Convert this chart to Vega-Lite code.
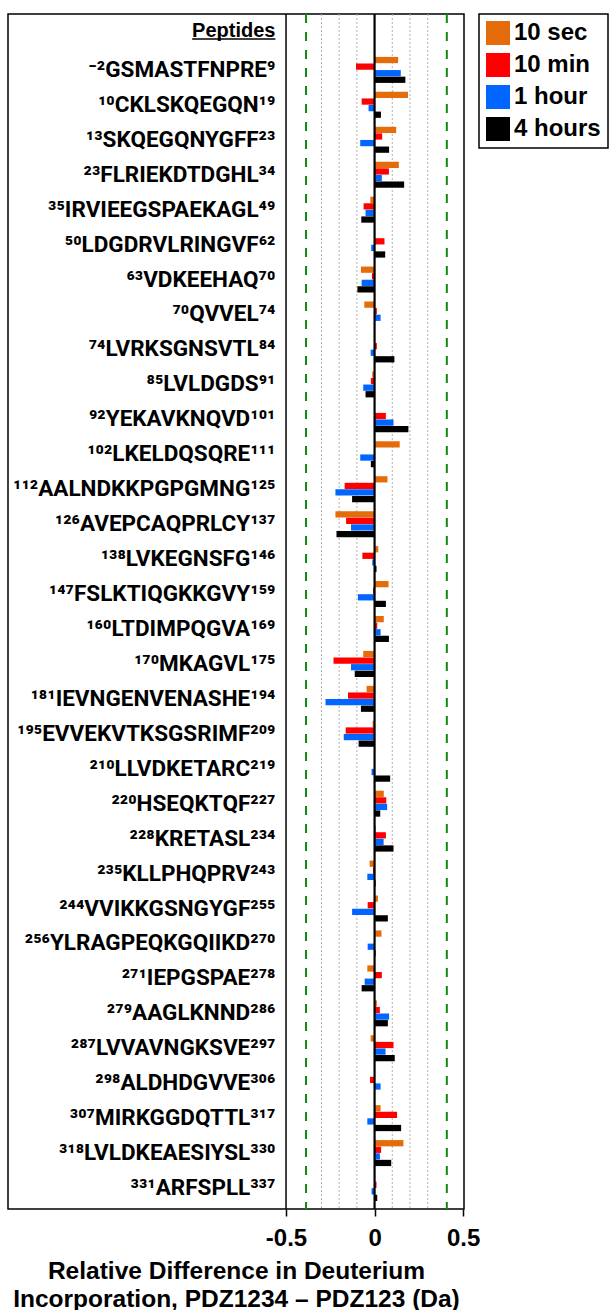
{
  "$schema": "https://vega.github.io/schema/vega-lite/v6.json",
  "autosize": {"type": "none"},
  "width": 456,
  "height": 1195,
  "padding": {"left": 8, "top": 14, "right": 149, "bottom": 101},
  "background": "white",
  "config": {
    "view": {"stroke": "#000000", "strokeWidth": 1.5},
    "font": "Liberation Sans"
  },
  "datasets": {
    "labels": [
      {"peptide": "⁻²GSMASTFNPRE⁹"},
      {"peptide": "¹⁰CKLSKQEGQN¹⁹"},
      {"peptide": "¹³SKQEGQNYGFF²³"},
      {"peptide": "²³FLRIEKDTDGHL³⁴"},
      {"peptide": "³⁵IRVIEEGSPAEKAGL⁴⁹"},
      {"peptide": "⁵⁰LDGDRVLRINGVF⁶²"},
      {"peptide": "⁶³VDKEEHAQ⁷⁰"},
      {"peptide": "⁷⁰QVVEL⁷⁴"},
      {"peptide": "⁷⁴LVRKSGNSVTL⁸⁴"},
      {"peptide": "⁸⁵LVLDGDS⁹¹"},
      {"peptide": "⁹²YEKAVKNQVD¹⁰¹"},
      {"peptide": "¹⁰²LKELDQSQRE¹¹¹"},
      {"peptide": "¹¹²AALNDKKPGPGMNG¹²⁵"},
      {"peptide": "¹²⁶AVEPCAQPRLCY¹³⁷"},
      {"peptide": "¹³⁸LVKEGNSFG¹⁴⁶"},
      {"peptide": "¹⁴⁷FSLKTIQGKKGVY¹⁵⁹"},
      {"peptide": "¹⁶⁰LTDIMPQGVA¹⁶⁹"},
      {"peptide": "¹⁷⁰MKAGVL¹⁷⁵"},
      {"peptide": "¹⁸¹IEVNGENVENASHE¹⁹⁴"},
      {"peptide": "¹⁹⁵EVVEKVTKSGSRIMF²⁰⁹"},
      {"peptide": "²¹⁰LLVDKETARC²¹⁹"},
      {"peptide": "²²⁰HSEQKTQF²²⁷"},
      {"peptide": "²²⁸KRETASL²³⁴"},
      {"peptide": "²³⁵KLLPHQPRV²⁴³"},
      {"peptide": "²⁴⁴VVIKKGSNGYGF²⁵⁵"},
      {"peptide": "²⁵⁶YLRAGPEQKGQIIKD²⁷⁰"},
      {"peptide": "²⁷¹IEPGSPAE²⁷⁸"},
      {"peptide": "²⁷⁹AAGLKNND²⁸⁶"},
      {"peptide": "²⁸⁷LVVAVNGKSVE²⁹⁷"},
      {"peptide": "²⁹⁸ALDHDGVVE³⁰⁶"},
      {"peptide": "³⁰⁷MIRKGGDQTTL³¹⁷"},
      {"peptide": "³¹⁸LVLDKEAESIYSL³³⁰"},
      {"peptide": "³³¹ARFSPLL³³⁷"}
    ],
    "bars": [
      {"peptide": "⁻²GSMASTFNPRE⁹", "time": "10 sec", "value": 0.133},
      {"peptide": "⁻²GSMASTFNPRE⁹", "time": "10 min", "value": -0.105},
      {"peptide": "⁻²GSMASTFNPRE⁹", "time": "1 hour", "value": 0.148},
      {"peptide": "⁻²GSMASTFNPRE⁹", "time": "4 hours", "value": 0.174},
      {"peptide": "¹⁰CKLSKQEGQN¹⁹", "time": "10 sec", "value": 0.189},
      {"peptide": "¹⁰CKLSKQEGQN¹⁹", "time": "10 min", "value": -0.073},
      {"peptide": "¹⁰CKLSKQEGQN¹⁹", "time": "1 hour", "value": -0.034},
      {"peptide": "¹⁰CKLSKQEGQN¹⁹", "time": "4 hours", "value": 0.036},
      {"peptide": "¹³SKQEGQNYGFF²³", "time": "10 sec", "value": 0.122},
      {"peptide": "¹³SKQEGQNYGFF²³", "time": "10 min", "value": 0.043},
      {"peptide": "¹³SKQEGQNYGFF²³", "time": "1 hour", "value": -0.081},
      {"peptide": "¹³SKQEGQNYGFF²³", "time": "4 hours", "value": 0.082},
      {"peptide": "²³FLRIEKDTDGHL³⁴", "time": "10 sec", "value": 0.137},
      {"peptide": "²³FLRIEKDTDGHL³⁴", "time": "10 min", "value": 0.081},
      {"peptide": "²³FLRIEKDTDGHL³⁴", "time": "1 hour", "value": 0.041},
      {"peptide": "²³FLRIEKDTDGHL³⁴", "time": "4 hours", "value": 0.167},
      {"peptide": "³⁵IRVIEEGSPAEKAGL⁴⁹", "time": "10 sec", "value": -0.024},
      {"peptide": "³⁵IRVIEEGSPAEKAGL⁴⁹", "time": "10 min", "value": -0.062},
      {"peptide": "³⁵IRVIEEGSPAEKAGL⁴⁹", "time": "1 hour", "value": -0.051},
      {"peptide": "³⁵IRVIEEGSPAEKAGL⁴⁹", "time": "4 hours", "value": -0.075},
      {"peptide": "⁵⁰LDGDRVLRINGVF⁶²", "time": "10 sec", "value": 0.0},
      {"peptide": "⁵⁰LDGDRVLRINGVF⁶²", "time": "10 min", "value": 0.056},
      {"peptide": "⁵⁰LDGDRVLRINGVF⁶²", "time": "1 hour", "value": -0.019},
      {"peptide": "⁵⁰LDGDRVLRINGVF⁶²", "time": "4 hours", "value": 0.06},
      {"peptide": "⁶³VDKEEHAQ⁷⁰", "time": "10 sec", "value": -0.077},
      {"peptide": "⁶³VDKEEHAQ⁷⁰", "time": "10 min", "value": -0.015},
      {"peptide": "⁶³VDKEEHAQ⁷⁰", "time": "1 hour", "value": -0.073},
      {"peptide": "⁶³VDKEEHAQ⁷⁰", "time": "4 hours", "value": -0.097},
      {"peptide": "⁷⁰QVVEL⁷⁴", "time": "10 sec", "value": -0.058},
      {"peptide": "⁷⁰QVVEL⁷⁴", "time": "10 min", "value": 0.013},
      {"peptide": "⁷⁰QVVEL⁷⁴", "time": "1 hour", "value": 0.034},
      {"peptide": "⁷⁰QVVEL⁷⁴", "time": "4 hours", "value": 0.0},
      {"peptide": "⁷⁴LVRKSGNSVTL⁸⁴", "time": "10 sec", "value": 0.0},
      {"peptide": "⁷⁴LVRKSGNSVTL⁸⁴", "time": "10 min", "value": 0.013},
      {"peptide": "⁷⁴LVRKSGNSVTL⁸⁴", "time": "1 hour", "value": -0.022},
      {"peptide": "⁷⁴LVRKSGNSVTL⁸⁴", "time": "4 hours", "value": 0.112},
      {"peptide": "⁸⁵LVLDGDS⁹¹", "time": "10 sec", "value": -0.013},
      {"peptide": "⁸⁵LVLDGDS⁹¹", "time": "10 min", "value": -0.021},
      {"peptide": "⁸⁵LVLDGDS⁹¹", "time": "1 hour", "value": -0.064},
      {"peptide": "⁸⁵LVLDGDS⁹¹", "time": "4 hours", "value": -0.051},
      {"peptide": "⁹²YEKAVKNQVD¹⁰¹", "time": "10 sec", "value": 0.0},
      {"peptide": "⁹²YEKAVKNQVD¹⁰¹", "time": "10 min", "value": 0.064},
      {"peptide": "⁹²YEKAVKNQVD¹⁰¹", "time": "1 hour", "value": 0.107},
      {"peptide": "⁹²YEKAVKNQVD¹⁰¹", "time": "4 hours", "value": 0.191},
      {"peptide": "¹⁰²LKELDQSQRE¹¹¹", "time": "10 sec", "value": 0.142},
      {"peptide": "¹⁰²LKELDQSQRE¹¹¹", "time": "10 min", "value": 0.0},
      {"peptide": "¹⁰²LKELDQSQRE¹¹¹", "time": "1 hour", "value": -0.081},
      {"peptide": "¹⁰²LKELDQSQRE¹¹¹", "time": "4 hours", "value": -0.021},
      {"peptide": "¹¹²AALNDKKPGPGMNG¹²⁵", "time": "10 sec", "value": 0.073},
      {"peptide": "¹¹²AALNDKKPGPGMNG¹²⁵", "time": "10 min", "value": -0.169},
      {"peptide": "¹¹²AALNDKKPGPGMNG¹²⁵", "time": "1 hour", "value": -0.221},
      {"peptide": "¹¹²AALNDKKPGPGMNG¹²⁵", "time": "4 hours", "value": -0.127},
      {"peptide": "¹²⁶AVEPCAQPRLCY¹³⁷", "time": "10 sec", "value": -0.221},
      {"peptide": "¹²⁶AVEPCAQPRLCY¹³⁷", "time": "10 min", "value": -0.161},
      {"peptide": "¹²⁶AVEPCAQPRLCY¹³⁷", "time": "1 hour", "value": -0.133},
      {"peptide": "¹²⁶AVEPCAQPRLCY¹³⁷", "time": "4 hours", "value": -0.215},
      {"peptide": "¹³⁸LVKEGNSFG¹⁴⁶", "time": "10 sec", "value": 0.021},
      {"peptide": "¹³⁸LVKEGNSFG¹⁴⁶", "time": "10 min", "value": -0.069},
      {"peptide": "¹³⁸LVKEGNSFG¹⁴⁶", "time": "1 hour", "value": -0.013},
      {"peptide": "¹³⁸LVKEGNSFG¹⁴⁶", "time": "4 hours", "value": 0.011},
      {"peptide": "¹⁴⁷FSLKTIQGKKGVY¹⁵⁹", "time": "10 sec", "value": 0.079},
      {"peptide": "¹⁴⁷FSLKTIQGKKGVY¹⁵⁹", "time": "10 min", "value": -0.009},
      {"peptide": "¹⁴⁷FSLKTIQGKKGVY¹⁵⁹", "time": "1 hour", "value": -0.094},
      {"peptide": "¹⁴⁷FSLKTIQGKKGVY¹⁵⁹", "time": "4 hours", "value": 0.064},
      {"peptide": "¹⁶⁰LTDIMPQGVA¹⁶⁹", "time": "10 sec", "value": 0.052},
      {"peptide": "¹⁶⁰LTDIMPQGVA¹⁶⁹", "time": "10 min", "value": 0.015},
      {"peptide": "¹⁶⁰LTDIMPQGVA¹⁶⁹", "time": "1 hour", "value": 0.034},
      {"peptide": "¹⁶⁰LTDIMPQGVA¹⁶⁹", "time": "4 hours", "value": 0.081},
      {"peptide": "¹⁷⁰MKAGVL¹⁷⁵", "time": "10 sec", "value": -0.064},
      {"peptide": "¹⁷⁰MKAGVL¹⁷⁵", "time": "10 min", "value": -0.232},
      {"peptide": "¹⁷⁰MKAGVL¹⁷⁵", "time": "1 hour", "value": -0.133},
      {"peptide": "¹⁷⁰MKAGVL¹⁷⁵", "time": "4 hours", "value": -0.112},
      {"peptide": "¹⁸¹IEVNGENVENASHE¹⁹⁴", "time": "10 sec", "value": -0.045},
      {"peptide": "¹⁸¹IEVNGENVENASHE¹⁹⁴", "time": "10 min", "value": -0.15},
      {"peptide": "¹⁸¹IEVNGENVENASHE¹⁹⁴", "time": "1 hour", "value": -0.277},
      {"peptide": "¹⁸¹IEVNGENVENASHE¹⁹⁴", "time": "4 hours", "value": -0.077},
      {"peptide": "¹⁹⁵EVVEKVTKSGSRIMF²⁰⁹", "time": "10 sec", "value": -0.011},
      {"peptide": "¹⁹⁵EVVEKVTKSGSRIMF²⁰⁹", "time": "10 min", "value": -0.163},
      {"peptide": "¹⁹⁵EVVEKVTKSGSRIMF²⁰⁹", "time": "1 hour", "value": -0.174},
      {"peptide": "¹⁹⁵EVVEKVTKSGSRIMF²⁰⁹", "time": "4 hours", "value": -0.09},
      {"peptide": "²¹⁰LLVDKETARC²¹⁹", "time": "10 sec", "value": 0.0},
      {"peptide": "²¹⁰LLVDKETARC²¹⁹", "time": "10 min", "value": 0.0},
      {"peptide": "²¹⁰LLVDKETARC²¹⁹", "time": "1 hour", "value": -0.017},
      {"peptide": "²¹⁰LLVDKETARC²¹⁹", "time": "4 hours", "value": 0.088},
      {"peptide": "²²⁰HSEQKTQF²²⁷", "time": "10 sec", "value": 0.052},
      {"peptide": "²²⁰HSEQKTQF²²⁷", "time": "10 min", "value": 0.066},
      {"peptide": "²²⁰HSEQKTQF²²⁷", "time": "1 hour", "value": 0.071},
      {"peptide": "²²⁰HSEQKTQF²²⁷", "time": "4 hours", "value": 0.032},
      {"peptide": "²²⁸KRETASL²³⁴", "time": "10 sec", "value": 0.007},
      {"peptide": "²²⁸KRETASL²³⁴", "time": "10 min", "value": 0.064},
      {"peptide": "²²⁸KRETASL²³⁴", "time": "1 hour", "value": 0.051},
      {"peptide": "²²⁸KRETASL²³⁴", "time": "4 hours", "value": 0.107},
      {"peptide": "²³⁵KLLPHQPRV²⁴³", "time": "10 sec", "value": -0.028},
      {"peptide": "²³⁵KLLPHQPRV²⁴³", "time": "10 min", "value": -0.009},
      {"peptide": "²³⁵KLLPHQPRV²⁴³", "time": "1 hour", "value": -0.041},
      {"peptide": "²³⁵KLLPHQPRV²⁴³", "time": "4 hours", "value": 0.006},
      {"peptide": "²⁴⁴VVIKKGSNGYGF²⁵⁵", "time": "10 sec", "value": 0.019},
      {"peptide": "²⁴⁴VVIKKGSNGYGF²⁵⁵", "time": "10 min", "value": -0.039},
      {"peptide": "²⁴⁴VVIKKGSNGYGF²⁵⁵", "time": "1 hour", "value": -0.127},
      {"peptide": "²⁴⁴VVIKKGSNGYGF²⁵⁵", "time": "4 hours", "value": 0.075},
      {"peptide": "²⁵⁶YLRAGPEQKGQIIKD²⁷⁰", "time": "10 sec", "value": 0.039},
      {"peptide": "²⁵⁶YLRAGPEQKGQIIKD²⁷⁰", "time": "10 min", "value": 0.0},
      {"peptide": "²⁵⁶YLRAGPEQKGQIIKD²⁷⁰", "time": "1 hour", "value": -0.039},
      {"peptide": "²⁵⁶YLRAGPEQKGQIIKD²⁷⁰", "time": "4 hours", "value": 0.006},
      {"peptide": "²⁷¹IEPGSPAE²⁷⁸", "time": "10 sec", "value": -0.041},
      {"peptide": "²⁷¹IEPGSPAE²⁷⁸", "time": "10 min", "value": 0.041},
      {"peptide": "²⁷¹IEPGSPAE²⁷⁸", "time": "1 hour", "value": -0.056},
      {"peptide": "²⁷¹IEPGSPAE²⁷⁸", "time": "4 hours", "value": -0.073},
      {"peptide": "²⁷⁹AAGLKNND²⁸⁶", "time": "10 sec", "value": 0.013},
      {"peptide": "²⁷⁹AAGLKNND²⁸⁶", "time": "10 min", "value": 0.03},
      {"peptide": "²⁷⁹AAGLKNND²⁸⁶", "time": "1 hour", "value": 0.082},
      {"peptide": "²⁷⁹AAGLKNND²⁸⁶", "time": "4 hours", "value": 0.075},
      {"peptide": "²⁸⁷LVVAVNGKSVE²⁹⁷", "time": "10 sec", "value": -0.022},
      {"peptide": "²⁸⁷LVVAVNGKSVE²⁹⁷", "time": "10 min", "value": 0.107},
      {"peptide": "²⁸⁷LVVAVNGKSVE²⁹⁷", "time": "1 hour", "value": 0.062},
      {"peptide": "²⁸⁷LVVAVNGKSVE²⁹⁷", "time": "4 hours", "value": 0.114},
      {"peptide": "²⁹⁸ALDHDGVVE³⁰⁶", "time": "10 sec", "value": 0.0},
      {"peptide": "²⁹⁸ALDHDGVVE³⁰⁶", "time": "10 min", "value": -0.026},
      {"peptide": "²⁹⁸ALDHDGVVE³⁰⁶", "time": "1 hour", "value": 0.034},
      {"peptide": "²⁹⁸ALDHDGVVE³⁰⁶", "time": "4 hours", "value": 0.0},
      {"peptide": "³⁰⁷MIRKGGDQTTL³¹⁷", "time": "10 sec", "value": 0.034},
      {"peptide": "³⁰⁷MIRKGGDQTTL³¹⁷", "time": "10 min", "value": 0.127},
      {"peptide": "³⁰⁷MIRKGGDQTTL³¹⁷", "time": "1 hour", "value": -0.041},
      {"peptide": "³⁰⁷MIRKGGDQTTL³¹⁷", "time": "4 hours", "value": 0.15},
      {"peptide": "³¹⁸LVLDKEAESIYSL³³⁰", "time": "10 sec", "value": 0.163},
      {"peptide": "³¹⁸LVLDKEAESIYSL³³⁰", "time": "10 min", "value": 0.037},
      {"peptide": "³¹⁸LVLDKEAESIYSL³³⁰", "time": "1 hour", "value": 0.03},
      {"peptide": "³¹⁸LVLDKEAESIYSL³³⁰", "time": "4 hours", "value": 0.094},
      {"peptide": "³³¹ARFSPLL³³⁷", "time": "10 sec", "value": 0.0},
      {"peptide": "³³¹ARFSPLL³³⁷", "time": "10 min", "value": 0.011},
      {"peptide": "³³¹ARFSPLL³³⁷", "time": "1 hour", "value": -0.017},
      {"peptide": "³³¹ARFSPLL³³⁷", "time": "4 hours", "value": 0.015}
    ],
    "grid": [
      {"v": -0.3}, {"v": -0.2}, {"v": -0.1}, {"v": 0.1}, {"v": 0.2}, {"v": 0.3}
    ],
    "threshold": [
      {"v": -0.387}, {"v": 0.408}
    ]
  },
  "layer": [
    {
      "data": {"name": "grid"},
      "mark": {"type": "rule", "color": "#b0b0b0", "strokeWidth": 1, "strokeDash": [2, 2]},
      "encoding": {
        "x": {"field": "v", "type": "quantitative"}
      }
    },
    {
      "data": {"name": "threshold"},
      "mark": {"type": "rule", "color": "#118811", "strokeWidth": 2, "strokeDash": [9, 9]},
      "encoding": {
        "x": {"field": "v", "type": "quantitative"}
      }
    },
    {
      "data": {"name": "bars"},
      "mark": {"type": "bar"},
      "encoding": {
        "y": {
          "field": "peptide",
          "type": "nominal",
          "axis": null,
          "scale": {
            "domain": ["Peptides", "⁻²GSMASTFNPRE⁹", "¹⁰CKLSKQEGQN¹⁹", "¹³SKQEGQNYGFF²³", "²³FLRIEKDTDGHL³⁴", "³⁵IRVIEEGSPAEKAGL⁴⁹", "⁵⁰LDGDRVLRINGVF⁶²", "⁶³VDKEEHAQ⁷⁰", "⁷⁰QVVEL⁷⁴", "⁷⁴LVRKSGNSVTL⁸⁴", "⁸⁵LVLDGDS⁹¹", "⁹²YEKAVKNQVD¹⁰¹", "¹⁰²LKELDQSQRE¹¹¹", "¹¹²AALNDKKPGPGMNG¹²⁵", "¹²⁶AVEPCAQPRLCY¹³⁷", "¹³⁸LVKEGNSFG¹⁴⁶", "¹⁴⁷FSLKTIQGKKGVY¹⁵⁹", "¹⁶⁰LTDIMPQGVA¹⁶⁹", "¹⁷⁰MKAGVL¹⁷⁵", "¹⁸¹IEVNGENVENASHE¹⁹⁴", "¹⁹⁵EVVEKVTKSGSRIMF²⁰⁹", "²¹⁰LLVDKETARC²¹⁹", "²²⁰HSEQKTQF²²⁷", "²²⁸KRETASL²³⁴", "²³⁵KLLPHQPRV²⁴³", "²⁴⁴VVIKKGSNGYGF²⁵⁵", "²⁵⁶YLRAGPEQKGQIIKD²⁷⁰", "²⁷¹IEPGSPAE²⁷⁸", "²⁷⁹AAGLKNND²⁸⁶", "²⁸⁷LVVAVNGKSVE²⁹⁷", "²⁹⁸ALDHDGVVE³⁰⁶", "³⁰⁷MIRKGGDQTTL³¹⁷", "³¹⁸LVLDKEAESIYSL³³⁰", "³³¹ARFSPLL³³⁷"],
            "paddingInner": 0,
            "paddingOuter": 0.1
          }
        },
        "yOffset": {
          "field": "time",
          "type": "nominal",
          "sort": ["10 sec", "10 min", "1 hour", "4 hours"],
          "scale": {"paddingInner": 0.05, "paddingOuter": 0.68}
        },
        "x": {
          "field": "value",
          "type": "quantitative",
          "scale": {"domain": [-2.07, 0.505], "nice": false, "zero": false},
          "axis": {
            "values": [-0.5, 0, 0.5],
            "labelExpr": "toString(datum.value)",
            "grid": false,
            "domain": false,
            "ticks": true,
            "tickSize": 7,
            "tickWidth": 1.5,
            "tickColor": "#000000",
            "labelFont": "Liberation Sans",
            "labelFontSize": 24,
            "labelFontWeight": "bold",
            "labelColor": "#000000",
            "labelPadding": 10,
            "labelFlush": false,
            "title": ["Relative Difference in Deuterium", "Incorporation, PDZ1234 – PDZ123 (Da)"],
            "titleFont": "Liberation Sans",
            "titleFontSize": 24.5,
            "titleFontWeight": "bold",
            "titleColor": "#000000",
            "titleLineHeight": 28,
            "titlePadding": 9
          }
        },
        "color": {
          "field": "time",
          "type": "nominal",
          "scale": {
            "domain": ["10 sec", "10 min", "1 hour", "4 hours"],
            "range": ["#E46C0A", "#FF0000", "#0066FF", "#000000"]
          },
          "legend": {
            "title": null,
            "orient": "right",
            "offset": 15,
            "symbolType": "square",
            "symbolSize": 576,
            "symbolStrokeWidth": 0,
            "labelFont": "Liberation Sans",
            "labelFontSize": 24,
            "labelFontWeight": "bold",
            "labelColor": "#000000",
            "labelOffset": 4,
            "rowPadding": 8,
            "padding": 7,
            "strokeColor": "#000000",
            "fillColor": "#ffffff",
            "encode": {
              "legend": {
                "update": {
                  "strokeWidth": {"value": 1.5}
                }
              },
              "symbols": {
                "update": {
                  "fill": {"signal": "datum.value === '10 sec' ? '#FF6600' : datum.value === '10 min' ? '#FF0000' : datum.value === '1 hour' ? '#0000FF' : '#000000'"},
                  "opacity": {"value": 1}
                }
              }
            }
          }
        }
      }
    },
    {
      "data": {"values": [{"v": -0.5}]},
      "mark": {"type": "rule", "color": "#000000", "strokeWidth": 1.5},
      "encoding": {"x": {"field": "v", "type": "quantitative"}}
    },
    {
      "data": {"values": [{"v": 0}]},
      "mark": {"type": "rule", "color": "#000000", "strokeWidth": 2.2},
      "encoding": {"x": {"field": "v", "type": "quantitative"}}
    },
    {
      "data": {"name": "labels"},
      "mark": {"type": "text", "align": "right", "baseline": "middle", "font": "Roboto, Noto Sans, DejaVu Sans", "fontSize": 22.5, "fontWeight": "bold", "color": "#000000"},
      "encoding": {
        "y": {"field": "peptide", "type": "nominal"},
        "x": {"datum": -0.56},
        "text": {"field": "peptide"}
      }
    },
    {
      "data": {"values": [{"peptide": "Peptides"}]},
      "mark": {"type": "text", "align": "right", "baseline": "alphabetic", "dy": 2, "font": "Liberation Sans", "fontSize": 20, "fontWeight": "bold", "color": "#000000"},
      "encoding": {
        "y": {"field": "peptide", "type": "nominal"},
        "x": {"datum": -0.56},
        "text": {"field": "peptide"}
      }
    },
    {
      "data": {"values": [{"peptide": "Peptides"}]},
      "mark": {"type": "rule", "color": "#000000", "strokeWidth": 1.5, "yOffset": 4},
      "encoding": {
        "y": {"field": "peptide", "type": "nominal"},
        "x": {"datum": -1.03},
        "x2": {"datum": -0.56}
      }
    }
  ]
}
